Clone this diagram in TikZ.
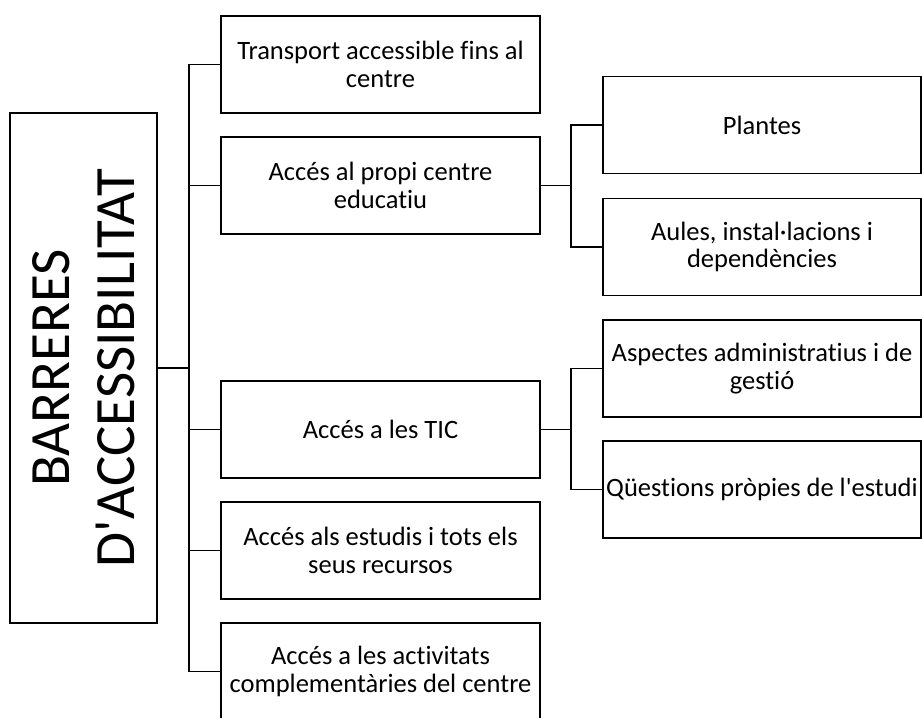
\documentclass[tikz,border=0pt]{standalone}
\usepackage{fontspec}
\setmainfont{Carlito}[Ligatures={NoCommon}, RawFeature={-liga;-clig;-calt;-dlig}]
\begin{document}
\begin{tikzpicture}[x=1pt,y=-1pt,
  box/.style={draw=black, line width=1.8pt, inner sep=0pt, align=center,
    font=\fontsize{26.5}{27.5}\selectfont},
  cbox/.style={box, minimum width=319pt, minimum height=97pt},
  sbox/.style={box, minimum width=318pt, minimum height=97pt},
  conn/.style={draw=black, line width=1.8pt}]
\useasboundingbox (0,0) rectangle (922,718);
\clip (0,0) rectangle (922,718);
% main box
\node[draw=black, line width=1.8pt, minimum width=147pt, minimum height=510pt, inner sep=0pt] (main) at (83.5,368) {};
\node[rotate=90, align=center, inner sep=0pt, font=\fontsize{57}{65}\selectfont] (maintext) at (main.center) {BARRERES\\D\textquotesingle ACCESSIBILITAT};
% column 2
\node[cbox] (b1) at (380.5,64.5) {Transport accessible fins al\\centre};
\node[cbox] (b2) at (380.5,185.5) {Accés al propi centre\\educatiu};
\node[cbox] (b3) at (380.5,429.5) {Accés a les TIC};
\node[cbox] (b4) at (380.5,550.5) {Accés als estudis i tots els\\seus recursos};
\node[cbox] (b5) at (380.5,671.5) {Accés a les activitats\\complementàries del centre};
% column 3
\node[sbox] (c1) at (762,125) {Plantes};
\node[sbox] (c2) at (762,247) {Aules, instal·lacions i\\dependències};
\node[sbox] (c3) at (762,368.5) {Aspectes administratius i de\\gestió};
\node[sbox] (c4) at (762,489.5) {Qüestions pròpies de l\textquotesingle estudi};
% trunk coordinates
\coordinate (tr) at (189,0);
\coordinate (tr2) at (571,0);
% connectors
\draw[conn] (main.east) -- (main.east -| tr);
\draw[conn] (b1.west) -- (b1.west -| tr) -- (b5.west -| tr) -- (b5.west);
\draw[conn] (b2.west) -- (b2.west -| tr);
\draw[conn] (b3.west) -- (b3.west -| tr);
\draw[conn] (b4.west) -- (b4.west -| tr);
\draw[conn] (b2.east) -- (b2.east -| tr2);
\draw[conn] (c1.west) -- (c1.west -| tr2) -- (c2.west -| tr2) -- (c2.west);
\draw[conn] (b3.east) -- (b3.east -| tr2);
\draw[conn] (c3.west) -- (c3.west -| tr2) -- (c4.west -| tr2) -- (c4.west);
\end{tikzpicture}
\end{document}
